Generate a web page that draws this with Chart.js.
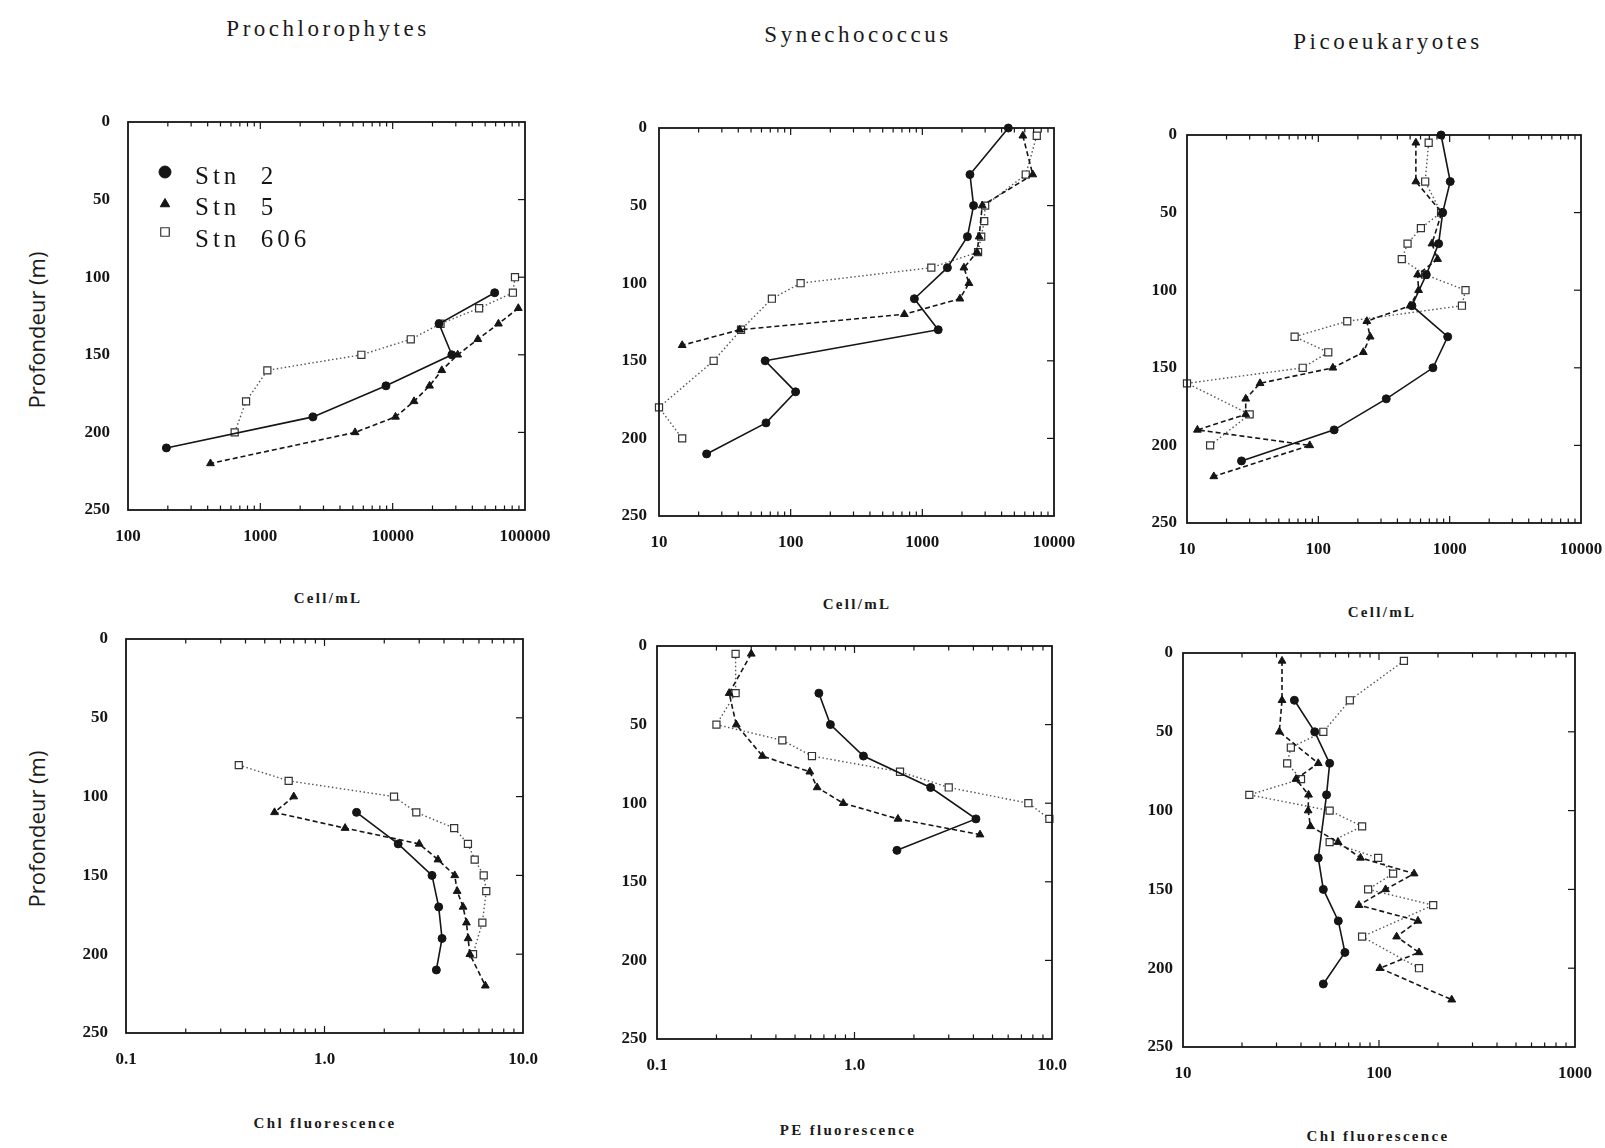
<!DOCTYPE html>
<html><head><meta charset="utf-8">
<script src="https://cdn.jsdelivr.net/npm/chart.js@4.4.0/dist/chart.umd.min.js"></script>
<style>
html,body{margin:0;padding:0;background:#fff;width:1605px;height:1148px;overflow:hidden;position:relative;}
canvas{position:absolute;}
.t{position:absolute;white-space:nowrap;transform:translate(-50%,-50%);color:#1a1a1a;}
.title{font-family:'Liberation Serif',serif;font-size:23px;letter-spacing:3.5px;}
.xt{font-family:'Liberation Serif',serif;font-weight:bold;font-size:15px;letter-spacing:2.3px;}
.yt{font-family:'Open Sans',sans-serif;font-size:22px;transform:translate(-50%,-50%) rotate(-90deg);}
</style></head><body>
<div class="t title" style="left:328px;top:29px">Prochlorophytes</div>
<div class="t title" style="left:858px;top:35px">Synechococcus</div>
<div class="t title" style="left:1388px;top:42px">Picoeukaryotes</div>
<div class="t xt" style="left:328px;top:598px">Cell/mL</div>
<div class="t xt" style="left:857px;top:604px">Cell/mL</div>
<div class="t xt" style="left:1382px;top:612px">Cell/mL</div>
<div class="t xt" style="left:325px;top:1123px">Chl fluorescence</div>
<div class="t xt" style="left:848px;top:1130px">PE fluorescence</div>
<div class="t xt" style="left:1378px;top:1136px">Chl fluorescence</div>
<div class="t yt" style="left:36px;top:330px">Profondeur (m)</div>
<div class="t yt" style="left:36px;top:829px">Profondeur (m)</div>
<script>
// ---------- data ----------
const stationNames = ['Stn 2', 'Stn 5', 'Stn 606'];
const depthTicks = [0, 50, 100, 150, 200, 250];

// Prochlorophytes, Cell/mL
const proDepth2 = [110, 130, 150, 170, 190, 210];
const proStn2 = [59000, 22400, 28000, 8900, 2500, 195];
const proDepth5 = [120, 130, 140, 150, 160, 170, 180, 190, 200, 220];
const proStn5 = [89000, 63000, 44000, 31000, 23500, 19000, 14500, 10500, 5200, 420];
const proDepth606 = [100, 110, 120, 130, 140, 150, 160, 180, 200];
const proStn606 = [84000, 81000, 45000, 23000, 13700, 5800, 1130, 780, 640];

// Synechococcus, Cell/mL
const synDepth2 = [0, 30, 50, 70, 90, 110, 130, 150, 170, 190, 210];
const synStn2 = [4500, 2300, 2450, 2200, 1550, 870, 1320, 64, 109, 65, 23];
const synDepth5 = [5, 30, 50, 70, 80, 90, 100, 110, 120, 130, 140];
const synStn5 = [5800, 6900, 2850, 2700, 2600, 2070, 2260, 1930, 730, 41, 15];
const synDepth606 = [5, 30, 50, 60, 70, 80, 90, 100, 110, 130, 150, 180, 200];
const synStn606 = [7400, 6100, 3000, 2950, 2800, 2650, 1170, 119, 72, 42, 26, 10, 15];

// Picoeukaryotes, Cell/mL
const picDepth2 = [0, 30, 50, 70, 90, 110, 130, 150, 170, 190, 210];
const picStn2 = [860, 1010, 885, 824, 664, 516, 966, 746, 329, 132, 26];
const picDepth5 = [5, 30, 50, 70, 80, 90, 100, 110, 120, 130, 140, 150, 160, 170, 180, 190, 200, 220];
const picStn5 = [553, 553, 870, 733, 809, 570, 580, 500, 234, 248, 220, 129, 36, 28, 28, 12, 86, 16];
const picDepth606 = [5, 30, 50, 60, 70, 80, 90, 100, 110, 120, 130, 140, 150, 160, 180, 200];
const picStn606 = [692, 651, 860, 604, 478, 432, 650, 1320, 1240, 166, 66, 119, 76, 10, 30, 15];

// Prochlorophytes, Chl fluorescence
const chlDepth2 = [110, 130, 150, 170, 190, 210];
const chlStn2 = [1.45, 2.35, 3.48, 3.76, 3.91, 3.66];
const chlDepth5 = [100, 110, 120, 130, 140, 150, 160, 170, 180, 190, 200, 220];
const chlStn5 = [0.70, 0.56, 1.27, 3.0, 3.73, 4.53, 4.66, 4.99, 5.19, 5.29, 5.4, 6.46];
const chlDepth606 = [80, 90, 100, 110, 120, 130, 140, 150, 160, 180, 200];
const chlStn606 = [0.37, 0.66, 2.24, 2.9, 4.5, 5.28, 5.71, 6.34, 6.53, 6.24, 5.6];

// Synechococcus, PE fluorescence
const peDepth2 = [30, 50, 70, 90, 110, 130];
const peStn2 = [0.66, 0.755, 1.11, 2.43, 4.12, 1.64];
const peDepth5 = [5, 30, 50, 70, 80, 90, 100, 110, 120];
const peStn5 = [0.30, 0.232, 0.252, 0.342, 0.594, 0.647, 0.877, 1.66, 4.32];
const peDepth606 = [5, 30, 50, 60, 70, 80, 90, 100, 110];
const peStn606 = [0.25, 0.25, 0.2, 0.431, 0.609, 1.7, 3.0, 7.59, 9.7];

// Picoeukaryotes, Chl fluorescence
const pchDepth2 = [30, 50, 70, 90, 130, 150, 170, 190, 210];
const pchStn2 = [37, 47, 56, 54, 49, 52, 62, 67, 52];
const pchDepth5 = [5, 30, 50, 70, 80, 90, 100, 110, 120, 130, 140, 150, 160, 170, 180, 190, 200, 220];
const pchStn5 = [32, 32, 31, 49, 37.7, 43.7, 43.5, 44.7, 61.8, 80.5, 151, 108, 79, 158, 123, 160, 101, 235];
const pchDepth606 = [5, 30, 50, 60, 70, 80, 90, 100, 110, 120, 130, 140, 150, 160, 180, 200];
const pchStn606 = [134, 71, 52, 35.5, 34, 40, 21.8, 56, 82, 56, 99, 118, 88, 189, 82, 160];

// x tick labels
const ticksCellPro = ['100', '1000', '10000', '100000'];
const ticksCellSyn = ['10', '100', '1000', '10000'];
const ticksCellPic = ['10', '100', '1000', '10000'];
const ticksChlPro = ['0.1', '1.0', '10.0'];
const ticksPE = ['0.1', '1.0', '10.0'];
const ticksChlPic = ['10', '100', '1000'];

// ---------- layout ----------
const YW = 70, XH = 44, PT = 44, PR = 64;
const panels = [
  {L:128, T:122, R:525, B:510, min:100, max:100000, labels:ticksCellPro, ypad:18, legend:true,
   series:[[proDepth2, proStn2], [proDepth5, proStn5], [proDepth606, proStn606]]},
  {L:659, T:128, R:1054, B:516, min:10, max:10000, labels:ticksCellSyn, ypad:12,
   series:[[synDepth2, synStn2], [synDepth5, synStn5], [synDepth606, synStn606]]},
  {L:1187, T:135, R:1581, B:523, min:10, max:10000, labels:ticksCellPic, ypad:10,
   series:[[picDepth2, picStn2], [picDepth5, picStn5], [picDepth606, picStn606]]},
  {L:126, T:639, R:523, B:1033, min:0.1, max:10, labels:ticksChlPro, ypad:18,
   series:[[chlDepth2, chlStn2], [chlDepth5, chlStn5], [chlDepth606, chlStn606]]},
  {L:657, T:646, R:1052, B:1039, min:0.1, max:10, labels:ticksPE, ypad:10,
   series:[[peDepth2, peStn2], [peDepth5, peStn5], [peDepth606, peStn606]]},
  {L:1183, T:653, R:1575, B:1047, min:10, max:1000, labels:ticksChlPic, ypad:10,
   series:[[pchDepth2, pchStn2], [pchDepth5, pchStn5], [pchDepth606, pchStn606]]}
];

const INK = '#151515';
const styles = [
  {borderColor:INK, borderWidth:1.6, borderDash:[], pointStyle:'circle', pointRadius:4, pointBackgroundColor:INK, pointBorderColor:INK, pointBorderWidth:1},
  {borderColor:INK, borderWidth:1.6, borderDash:[5,3], pointStyle:'triangle', pointRadius:4.5, pointBackgroundColor:INK, pointBorderColor:INK, pointBorderWidth:1},
  {borderColor:'#555', borderWidth:1.4, borderDash:[1.5,2.5], pointStyle:'rect', pointRadius:5, pointBackgroundColor:'#fff', pointBorderColor:'#333', pointBorderWidth:1.2}
];

function round6(v){ return Number(v.toPrecision(6)); }
function logTicks(min, max){
  const out = [];
  for (let e = Math.round(Math.log10(min)); e < Math.round(Math.log10(max)); e++) {
    const p = Math.pow(10, e);
    for (let m = 1; m <= 9; m++) out.push(round6(m * p));
  }
  out.push(max);
  return out;
}
function isDecade(v){ const l = Math.log10(v); return Math.abs(l - Math.round(l)) < 1e-6; }

const tickFont = {family:"'Liberation Serif', serif", size:17, weight:'bold'};

const framePlugin = {
  id:'frameTicks',
  afterDatasetsDraw(chart){
    const {ctx, chartArea:a, scales:{x, y}} = chart;
    ctx.save();
    ctx.strokeStyle = INK;
    ctx.lineWidth = 1.2;
    ctx.setLineDash([]);
    x.ticks.forEach(t => {
      const px = x.getPixelForValue(t.value);
      if (px <= a.left + 1 || px >= a.right - 1) return;
      const len = isDecade(t.value) ? 7 : 4.5;
      ctx.beginPath();
      ctx.moveTo(px, a.bottom); ctx.lineTo(px, a.bottom - len);
      ctx.moveTo(px, a.top); ctx.lineTo(px, a.top + len);
      ctx.stroke();
    });
    y.ticks.forEach(t => {
      const py = y.getPixelForValue(t.value);
      if (py <= a.top + 1 || py >= a.bottom - 1) return;
      ctx.beginPath();
      ctx.moveTo(a.right, py); ctx.lineTo(a.right - 7, py);
      ctx.stroke();
    });
    ctx.lineWidth = 1.8;
    ctx.strokeRect(a.left, a.top, a.right - a.left, a.bottom - a.top);
    ctx.restore();
  }
};

const legendPlugin = {
  id:'stnLegend',
  afterDraw(chart){
    if (!chart.options.plugins.stnLegend || !chart.options.plugins.stnLegend.show) return;
    const {ctx, chartArea:a} = chart;
    const rows = [{my:50, ty:62}, {my:82, ty:93}, {my:110, ty:125}];
    ctx.save();
    rows.forEach((r, i) => {
      const s = styles[i];
      ctx.fillStyle = s.pointBackgroundColor;
      ctx.strokeStyle = s.pointBorderColor;
      ctx.lineWidth = s.pointBorderWidth;
      ctx.setLineDash([]);
      Chart.helpers.drawPoint(ctx, {pointStyle:s.pointStyle, radius: i === 0 ? 6 : (i === 1 ? 5.5 : 6), rotation:0, borderWidth:s.pointBorderWidth}, a.left + 37, a.top + r.my);
      ctx.fillStyle = INK;
      ctx.font = "25px 'Liberation Serif', serif";
      try { ctx.letterSpacing = '4px'; } catch(e) {}
      ctx.textBaseline = 'alphabetic';
      ctx.textAlign = 'left';
      ctx.fillText(stationNames[i].replace(' ', '  '), a.left + 67, a.top + r.ty);
    });
    ctx.restore();
  }
};

panels.forEach(p => {
  const W = p.R - p.L, H = p.B - p.T;
  const cv = document.createElement('canvas');
  const cw = YW + W + PR, ch = PT + H + XH;
  cv.width = cw; cv.height = ch;
  cv.style.width = cw + 'px'; cv.style.height = ch + 'px';
  cv.style.left = (p.L - YW) + 'px'; cv.style.top = (p.T - PT) + 'px';
  document.body.appendChild(cv);
  const decades = [];
  for (let e = Math.round(Math.log10(p.min)); e <= Math.round(Math.log10(p.max)); e++) decades.push(round6(Math.pow(10, e)));
  const datasets = p.series.map((s, i) => Object.assign({
    label: stationNames[i],
    data: s[0].map((d, k) => ({x: s[1][k], y: d})),
    showLine: true, fill: false, tension: 0, clip: false
  }, styles[i]));
  const chart = new Chart(cv, {
    type: 'scatter',
    data: {datasets},
    options: {
      responsive: false, maintainAspectRatio: false, animation: false, devicePixelRatio: 1,
      layout: {padding: {top: PT, right: PR, left: 0, bottom: 0}},
      plugins: {legend: {display: false}, tooltip: {enabled: false}, stnLegend: {show: !!p.legend}},
      scales: {
        x: {
          type: 'logarithmic', position: 'bottom', min: p.min, max: p.max,
          grid: {display: false, drawTicks: false}, border: {display: false},
          afterBuildTicks(scale){ scale.ticks = logTicks(p.min, p.max).map(v => ({value: v, major: isDecade(v)})); },
          afterFit(scale){ scale.height = XH; },
          ticks: {
            autoSkip: false, maxRotation: 0, minRotation: 0, padding: 16, font: tickFont, color: INK,
            callback(v){
              const i = decades.findIndex(d => Math.abs(Math.log10(d) - Math.log10(v)) < 1e-6);
              return i >= 0 ? p.labels[i] : '';
            }
          }
        },
        y: {
          type: 'linear', position: 'left', reverse: true, min: 0, max: 250,
          grid: {display: false, drawTicks: false}, border: {display: false},
          afterBuildTicks(scale){ scale.ticks = depthTicks.map(v => ({value: v})); },
          afterFit(scale){ scale.width = YW; },
          ticks: {padding: p.ypad, font: tickFont, color: INK}
        }
      }
    },
    plugins: [framePlugin, legendPlugin]
  });
  // safety: align the drawn plot area with the intended frame position
  const a = chart.chartArea;
  cv.style.left = (p.L - a.left) + 'px';
  cv.style.top = (p.T - a.top) + 'px';
});
</script>
</body></html>
